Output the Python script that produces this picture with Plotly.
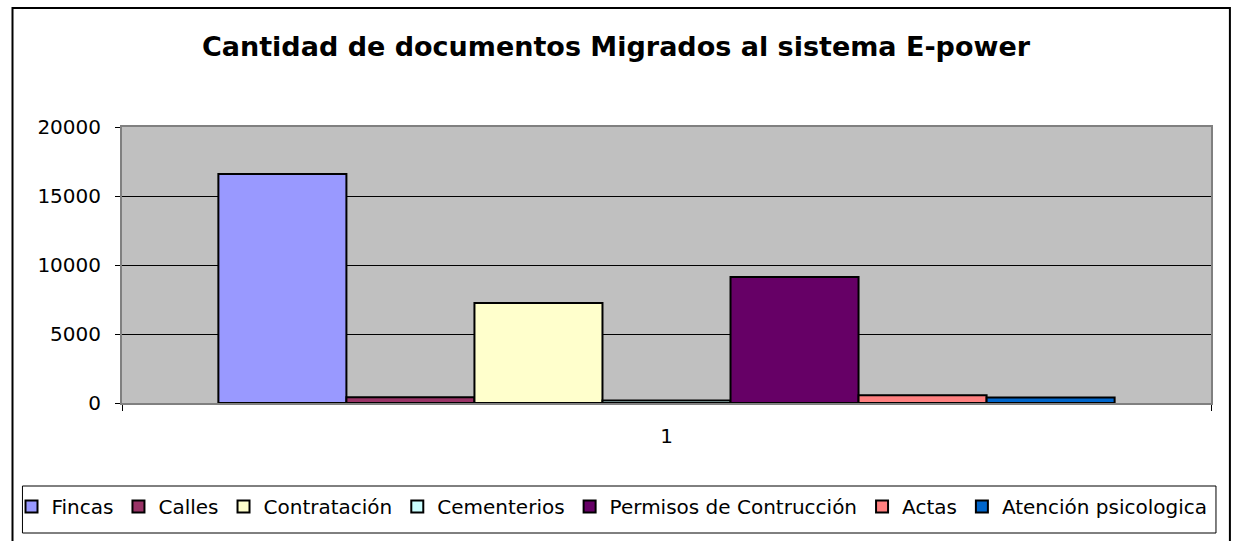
import plotly.graph_objects as go

categories = ["1"]
series_names = ["Fincas", "Calles", "Contratación", "Cementerios",
                "Permisos de Contrucción", "Actas", "Atención psicologica"]
series_values = [16600, 420, 7250, 180, 9130, 560, 400]
series_colors = ["#9999FF", "#993366", "#FFFFCC", "#CCFFFF",
                 "#660066", "#FF8080", "#0066CC"]
y_ticks = [0, 5000, 10000, 15000, 20000]
y_tick_text = ["0", "5000", "10000", "15000", "20000"]

FONT = "DejaVu Sans, Arial, sans-serif"

# plot area in screen pixels: x 117..1211, y 127..403
W, H = 1233, 541
L, R, T, B = 117, 1211, 127, 403


def px_x(p):
    return (p - L) / (R - L)


def px_y(p):
    return (B - p) / (B - T)


fig = go.Figure()
for name, val, col in zip(series_names, series_values, series_colors):
    fig.add_trace(go.Bar(
        x=categories, y=[val], name=name,
        marker=dict(color=col, line=dict(color="black", width=2)),
    ))

fig.update_layout(
    width=W, height=H,
    margin=dict(l=L, r=W - R, t=T, b=H - B),
    paper_bgcolor="white",
    plot_bgcolor="#C0C0C0",
    barmode="group",
    bargap=0.177,
    bargroupgap=0,
    font=dict(family=FONT, size=20, color="black"),
    title=dict(
        text="<b>Cantidad de documentos Migrados al sistema E-power</b>",
        x=616 / W, xref="container", xanchor="center",
        y=1 - 47 / H, yref="container", yanchor="middle",
        font=dict(family=FONT, size=27, color="black"),
    ),
    legend=dict(
        orientation="h",
        x=px_x(6), xanchor="left",
        y=px_y(487), yanchor="top",
        font=dict(family=FONT, size=20),
        itemwidth=30,
        bgcolor="rgba(0,0,0,0)",
        traceorder="normal",
    ),
    showlegend=True,
)

fig.update_yaxes(
    range=[0, 20000], tickvals=y_ticks, ticktext=y_tick_text,
    showgrid=True, gridcolor="black", gridwidth=1,
    showline=True, linecolor="#808080", linewidth=2, mirror=True,
    ticks="outside", ticklen=5, tickcolor="black",
    ticklabelstandoff=10,
    zeroline=False, fixedrange=True,
)
fig.update_xaxes(
    showline=True, linecolor="#808080", linewidth=2, mirror=True,
    ticks="outside", tickson="boundaries", ticklen=6, tickcolor="black",
    ticklabelstandoff=14,
    showgrid=False, fixedrange=True,
)

# outer chart frame and legend frame
fig.add_shape(type="rect", xref="paper", yref="paper",
              x0=px_x(7), x1=px_x(1230), y0=px_y(548), y1=px_y(8),
              line=dict(color="black", width=2), layer="below")
fig.add_shape(type="rect", xref="paper", yref="paper",
              x0=px_x(17), x1=px_x(1216), y0=px_y(533), y1=px_y(486),
              line=dict(color="black", width=1), layer="below")

# drop the default page margin so figure pixels line up with the window
fig.write_html("out.html", config={"displayModeBar": False},
               post_script="document.body.style.margin='0';")
